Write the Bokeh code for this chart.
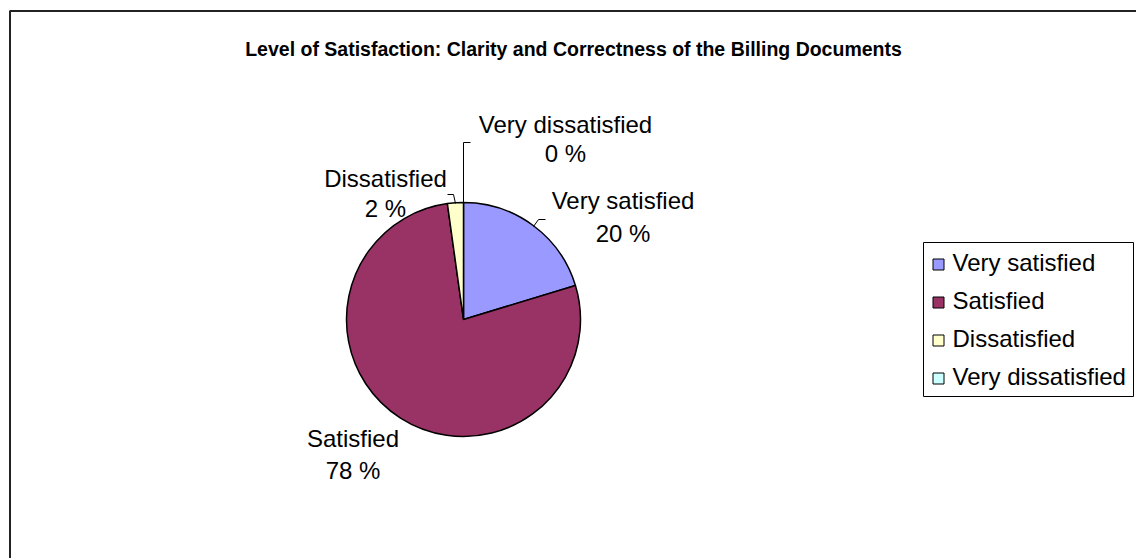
import math
from bokeh.plotting import figure
from bokeh.models import Range1d, ColumnDataSource
from bokeh.core.properties import value
from bokeh.embed import file_html
from bokeh.resources import INLINE

# ---- data ----
categories = ["Very satisfied", "Satisfied", "Dissatisfied", "Very dissatisfied"]
shares = [20.3, 77.5, 2.2, 0.0]
colors = ["#9999FF", "#993366", "#FFFFCC", "#CCFFFF"]
title_text = "Level of Satisfaction: Clarity and Correctness of the Billing Documents"

W, H = 1136, 558
FONT = "Liberation Sans"

def X(sx):
    return sx

def Y(sy):
    return H - sy

p = figure(width=W, height=H, output_backend="svg", toolbar_location=None,
           x_range=Range1d(0, W), y_range=Range1d(0, H), min_border=0)
p.axis.visible = False
p.grid.visible = False
p.outline_line_color = None
p.background_fill_color = "white"
p.border_fill_color = "white"

# chart border (left and top visible in reference)
p.line([X(9.5), X(9.5), W], [0, Y(10.5), Y(10.5)], line_color="#222222", line_width=2)

# title
p.text(x=[X(573)], y=[Y(48)], text=[title_text], text_font=value(FONT),
       text_font_style="bold", text_font_size="19.5px", text_align="center",
       text_baseline="middle", text_color="black")

# pie (zero-size slices are not drawn)
cx, cy, r = X(463), Y(319), 117
total = sum(shares)
starts, ends = [], []
cum = 0.0
for v in shares:
    starts.append(math.pi / 2 - 2 * math.pi * cum / total)
    cum += v
    ends.append(math.pi / 2 - 2 * math.pi * cum / total)
keep = [i for i, v in enumerate(shares) if v > 0]
src = ColumnDataSource(dict(cat=[categories[i] for i in keep],
                            color=[colors[i] for i in keep],
                            s=[starts[i] for i in keep],
                            e=[ends[i] for i in keep]))
p.wedge(x=cx, y=cy, radius=r, start_angle="s", end_angle="e", direction="clock",
        fill_color="color", line_color="black", line_width=1.5, source=src)

# data labels (name + percent)
label_pos = [(622.5, 200, 232.5), (352.5, 438, 470), (385, 178, 208), (565, 123.5, 153)]
for cat, v, (lx, ly1, ly2) in zip(categories, shares, label_pos):
    p.text(x=[X(lx), X(lx)], y=[Y(ly1), Y(ly2)], text=[cat, f"{round(v)} %"],
           text_font=value(FONT), text_font_size="24px", text_align="center",
           text_baseline="middle", text_color="black")

# leader lines
leaders = [
    [(533, 226), (538, 219), (545, 219)],
    [(455, 203), (453, 194), (447, 194)],
    [(463, 203), (463, 142), (470, 142)],
]
p.multi_line(xs=[[X(a) for a, b in l] for l in leaders],
             ys=[[Y(b) for a, b in l] for l in leaders],
             line_color="black", line_width=1)

# legend
lx0, ly0, lx1, ly1 = 923, 242, 1133, 396
p.quad(left=[X(lx0)], right=[X(lx1)], top=[Y(ly0)], bottom=[Y(ly1)],
       fill_color="white", line_color="black", line_width=1)
row_y = [264 + 38 * i for i in range(len(categories))]
p.rect(x=[X(938)] * len(categories), y=[Y(y) for y in row_y], width=11, height=11,
       fill_color=colors, line_color="black", line_width=1)
p.text(x=[X(952)] * len(categories), y=[Y(y - 2) for y in row_y], text=categories,
       text_font=value(FONT), text_font_size="24px", text_align="left",
       text_baseline="middle", text_color="black")

open("out.html", "w").write(file_html(p, INLINE))
